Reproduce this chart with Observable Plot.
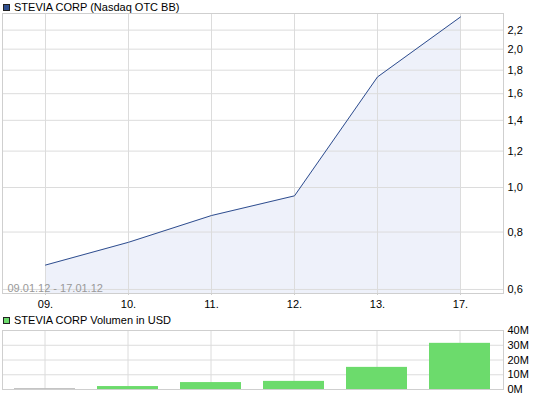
<!DOCTYPE html>
<html><head><meta charset="utf-8">
<script src="https://cdn.jsdelivr.net/npm/d3@7"></script>
<script src="https://cdn.jsdelivr.net/npm/@observablehq/plot@0.6"></script>
<style>
body{margin:0;background:#fff;font-family:"Liberation Sans",Arial,sans-serif;}
#wrap{position:relative;width:545px;height:398px;overflow:hidden;}
.hdr{position:absolute;left:3px;font-size:11px;color:#000;line-height:13px;height:13px;white-space:nowrap;z-index:2;}
.sq{position:absolute;left:0;top:3px;width:5px;height:5px;border:1px solid #222;}
.hdr span.t{position:absolute;left:11px;top:0;}
#topChart,#botChart{position:absolute;left:0;}
#topChart{top:12px;}
#botChart{top:321px;}
</style></head><body>
<div id="wrap">
  <div class="hdr" style="top:1px"><div class="sq" style="background:#2f4f8f"></div><span class="t" id="t1"></span></div>
  <div id="topChart"></div>
  <div class="hdr" style="top:314px"><div class="sq" style="background:#6cdb6c"></div><span class="t" id="t2"></span></div>
  <div id="botChart"></div>
</div>
<script>
const title1 = "STEVIA CORP (Nasdaq OTC BB)";
const title2 = "STEVIA CORP Volumen in USD";
const rangeLabel = "09.01.12 - 17.01.12";
const days = ["09.", "10.", "11.", "12.", "13.", "17."];
const prices = [0.678, 0.760, 0.869, 0.959, 1.74, 2.35];
const volumes = [0.6e6, 2.0e6, 4.7e6, 5.5e6, 15.0e6, 31.3e6];
const priceTicks = [0.6, 0.8, 1.0, 1.2, 1.4, 1.6, 1.8, 2.0, 2.2];
const volumeTicks = [0, 10e6, 20e6, 30e6, 40e6];

document.getElementById("t1").textContent = title1;
document.getElementById("t2").textContent = title2;

const priceData = days.map((d, i) => ({d, v: prices[i]}));
const volData = days.map((d, i) => ({d, v: volumes[i]}));

const fmtP = d => d.toFixed(1).replace(".", ",");
const fmtV = d => (d / 1e6) + "M";
const font = "Liberation Sans, Arial, sans-serif";

const priceChart = Plot.plot({
  width: 545, height: 300,
  marginLeft: 2, marginRight: 42, marginTop: 1, marginBottom: 19,
  style: {fontFamily: font, fontSize: "11px", color: "#000", background: "transparent"},
  x: {type: "point", domain: days, padding: 0.5, label: null},
  y: {type: "log", domain: [0.588, 2.391], label: null},
  marks: [
    Plot.areaY(priceData, {x: "d", y1: 0.588, y2: "v", fill: "#eef1fa"}),
    Plot.gridX(days, {stroke: "#dcdcdc", strokeOpacity: 1}),
    Plot.gridY(priceTicks, {stroke: "#dcdcdc", strokeOpacity: 1}),
    Plot.frame({stroke: "#cfcfcf"}),
    Plot.lineY(priceData, {x: "d", y: "v", stroke: "#2e4d8e", strokeWidth: 1}),
    Plot.axisX(days, {anchor: "bottom", tickSize: 2, tickPadding: 5, stroke: "#cfcfcf", label: null}),
    Plot.axisY(priceTicks, {anchor: "right", tickSize: 0, tickPadding: 4, tickFormat: fmtP, label: null}),
    Plot.text([rangeLabel], {frameAnchor: "bottom-left", dx: 5, dy: -2, fill: "#999", fontSize: 11})
  ]
});
document.getElementById("topChart").append(priceChart);

const volChart = Plot.plot({
  width: 545, height: 77,
  marginLeft: 2, marginRight: 42, marginTop: 9, marginBottom: 9,
  style: {fontFamily: font, fontSize: "11px", color: "#000", background: "transparent"},
  x: {type: "band", domain: days, paddingInner: 0.26, paddingOuter: 0.13, axis: null},
  y: {domain: [0, 40e6], label: null},
  marks: [
    Plot.gridX(days, {stroke: "#dcdcdc", strokeOpacity: 1}),
    Plot.gridY(volumeTicks, {stroke: "#dcdcdc", strokeOpacity: 1}),
    Plot.barY(volData, {x: "d", y: "v", fill: d => d.v < 1e6 ? "#bdbdbd" : "#6cdb6c"}),
    Plot.frame({stroke: "#cfcfcf"}),
    Plot.axisY(volumeTicks, {anchor: "right", tickSize: 0, tickPadding: 4, tickFormat: fmtV, label: null})
  ]
});
document.getElementById("botChart").append(volChart);
</script>
</body></html>
